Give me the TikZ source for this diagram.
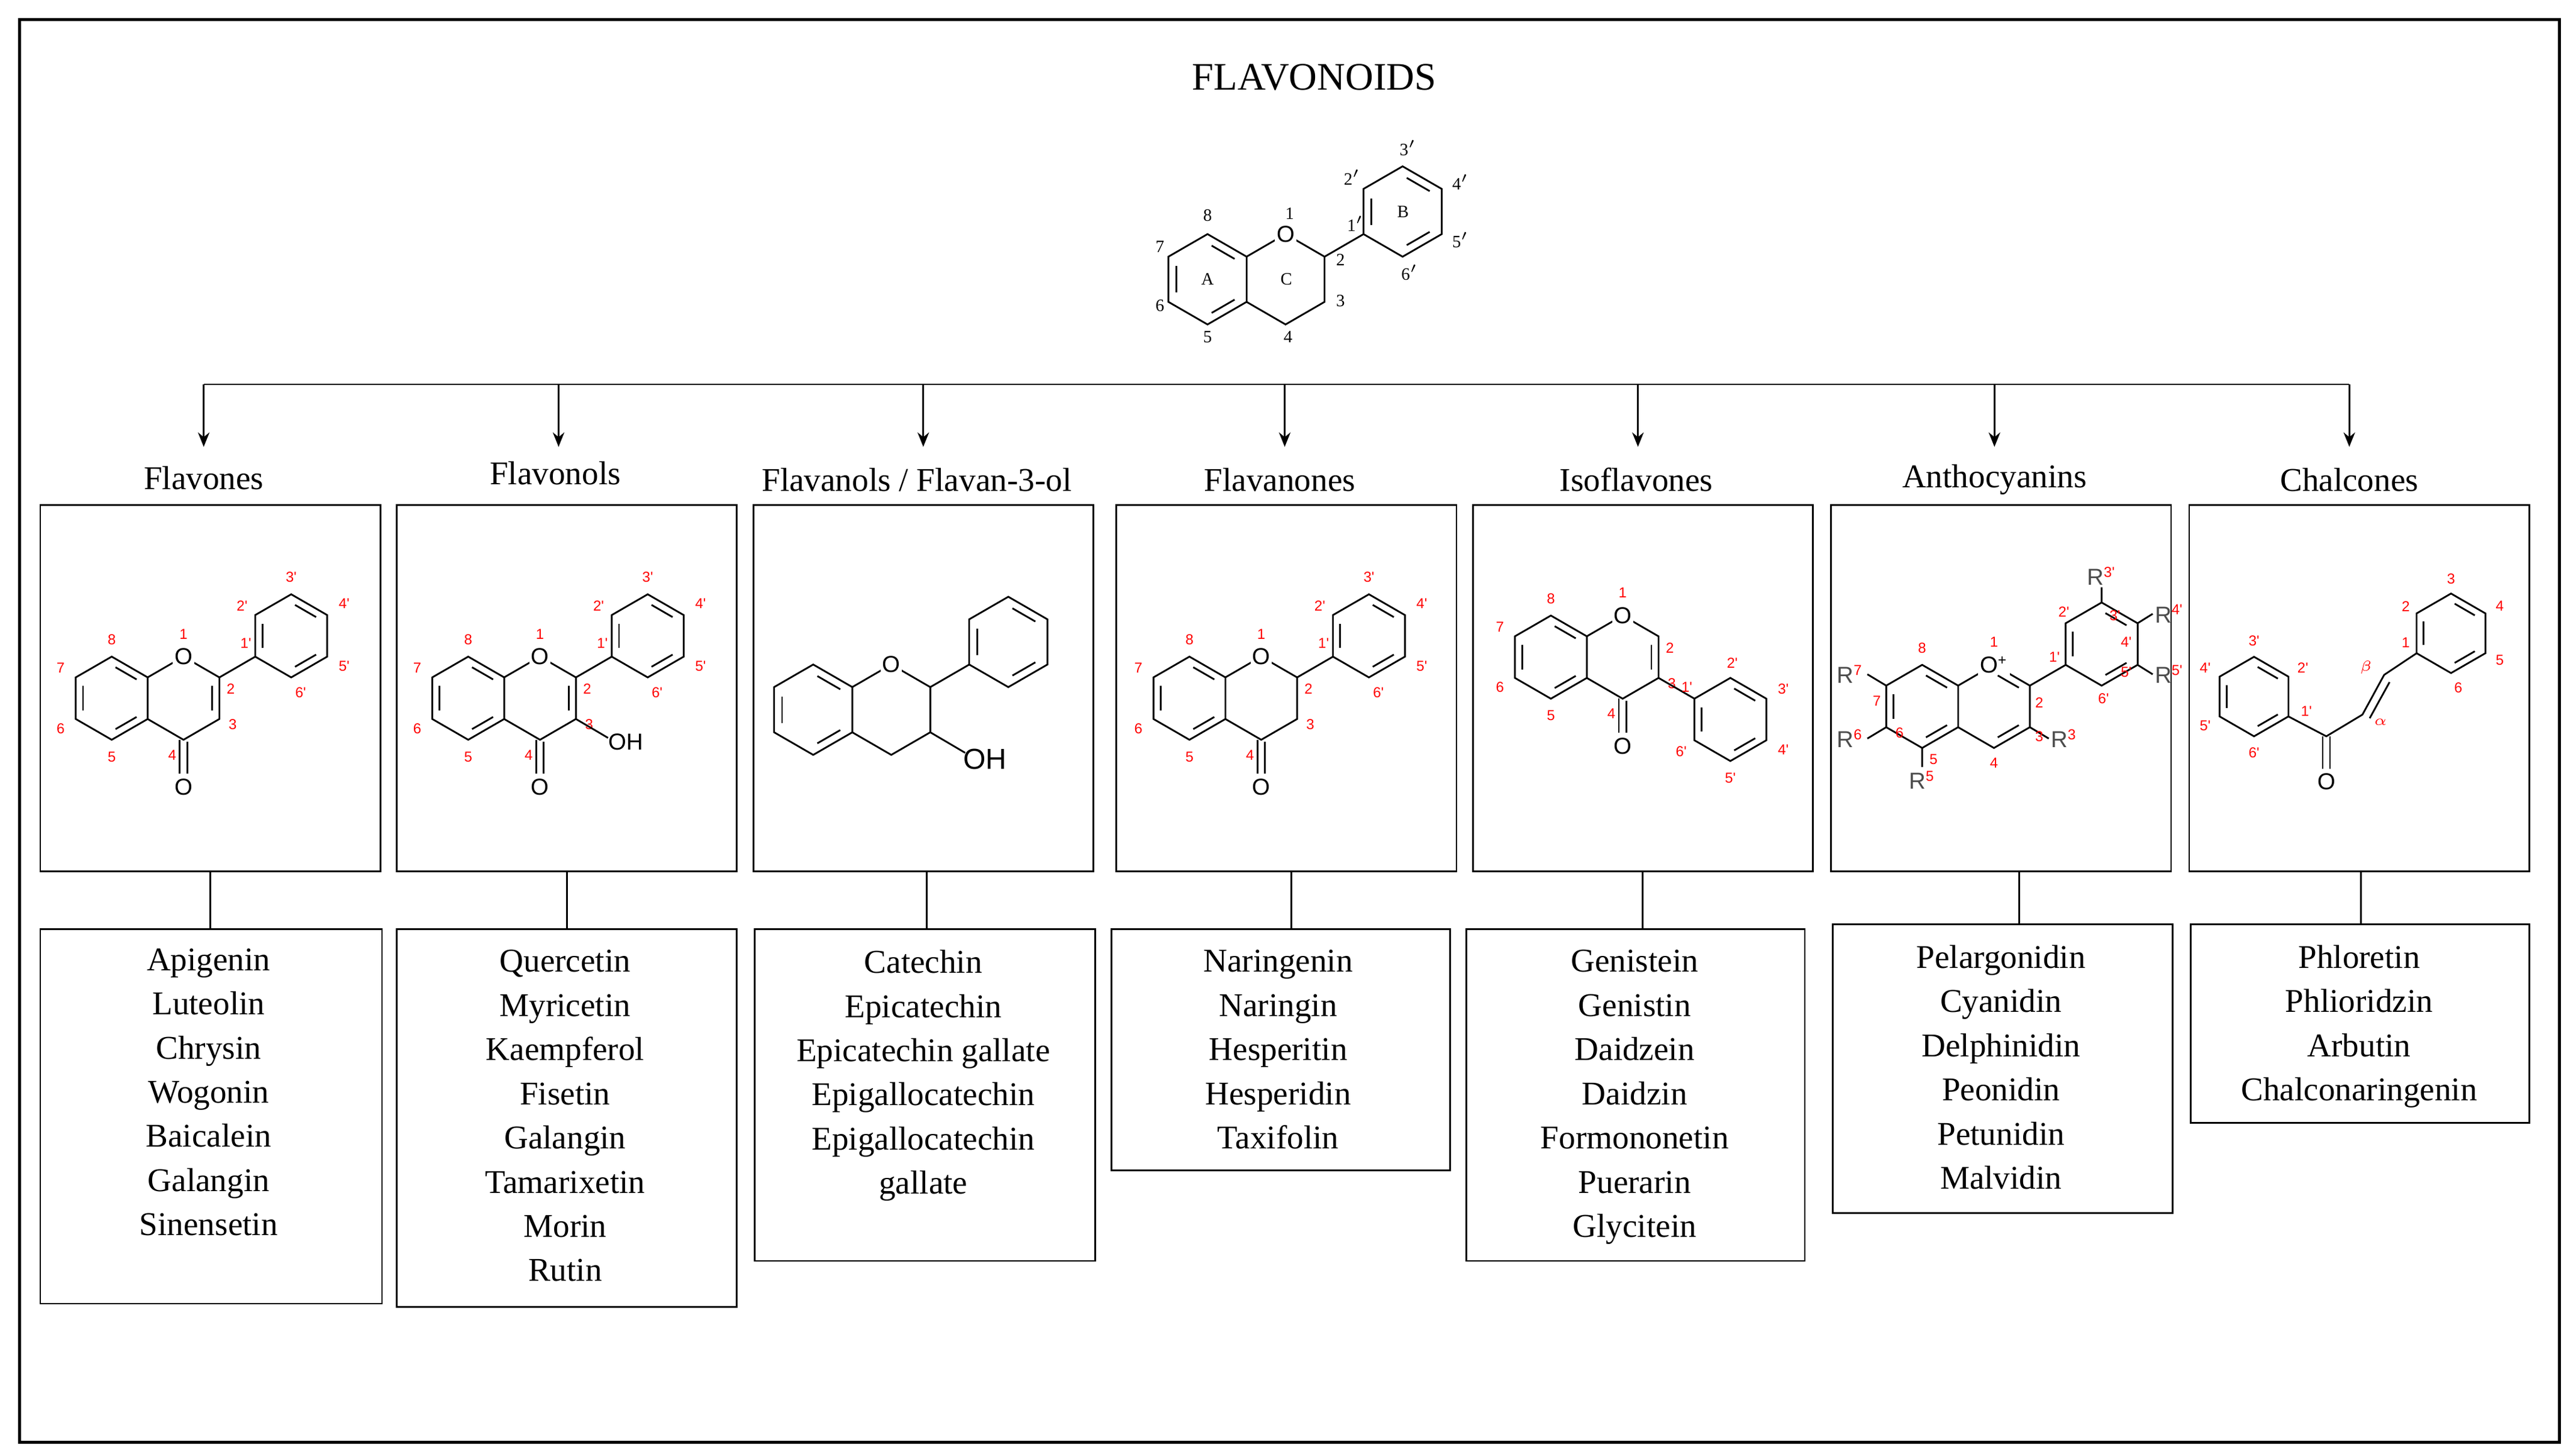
\documentclass[tikz,border=0pt]{standalone}
\usepackage{fontspec}
\setmainfont{Liberation Serif}
\newfontfamily\chemf{Liberation Sans}
\usetikzlibrary{arrows.meta}
\tikzset{
 chem/.style={font=\chemf\fontsize{8}{9}\selectfont,inner sep=0.6pt},
 rn/.style={font=\chemf\fontsize{5}{6}\selectfont,text=red,inner sep=0pt},
 bn/.style={font=\fontsize{6}{7}\selectfont,inner sep=0pt},
 box/.style={draw,line width=0.6pt},
 cat/.style={font=\fontsize{11.5}{13}\selectfont},
 lst/.style={font=\fontsize{11.5}{15.3}\selectfont,align=center,anchor=north,inner sep=0pt},
 arr/.style={-{Stealth[length=5pt,width=4pt]},line width=0.6pt},
 bond/.style={line width=0.6pt}
}
\newcommand\hexa[3]{\begin{scope}[shift={(#1,#2)}]
\draw[bond] (-90:22)--(-30:22)--(30:22)--(90:22)--(150:22)--(210:22)--cycle;
\ifnum#3=1 \foreach \a in {-90,30,150}{\draw[bond] (\a+7:16.5)--(\a+53:16.5);}\fi
\end{scope}}
\newcommand\ringC{\draw[bond] (19,-11)--(38,-22)--(57,-11)--(57,11)--(38,22)--(19,11);}
\newcommand\phenB{\draw[bond] (57,-11)--(76,-22);\hexa{95}{-33}{1}}
\newcommand\oxy{\node[chem,fill=white] (ox) at (38,-22) {O};}
\newcommand\carbonyl{\draw[bond] (36,22)--(36,40) (40,23)--(40,40);\node[chem] (co) at (38,47){O};}
\newcommand\dblCC{\begin{scope}[shift={(38,0)}]\draw[bond] (-23:16.5)--(23:16.5);\end{scope}}
\newcommand\coreNums{\node[rn] at (0,-31){8};\node[rn] at (-27,-16){7};\node[rn] at (-27,16){6};\node[rn] at (0,31){5};\node[rn] at (38,-34){1};\node[rn] at (63,-5){2};\node[rn] at (64,14){3};\node[rn] at (32,30){4};}
\newcommand\phenNums{\node[rn] at (71,-29){1'};\node[rn] at (69,-49){2'};\node[rn] at (95,-64){3'};\node[rn] at (123,-50){4'};\node[rn] at (123,-17){5'};\node[rn] at (100,-3){6'};}
\newcommand\RR[1]{R\textsuperscript{\color{red}\fontsize{5}{6}\selectfont #1}}
\begin{document}
\begin{tikzpicture}[x=0.02cm,y=-0.02cm]
\useasboundingbox (0,0) rectangle (1568,885);
\draw[line width=1.1pt] (12,12) rectangle (1558,878);
\node[font=\fontsize{13.5}{15}\selectfont] (title) at (800,47) {FLAVONOIDS};
% top structure
\begin{scope}[shift={(735,170)},scale=1.25]
\hexa{0}{0}{1}\ringC\phenB\oxy
\end{scope}
\foreach \p/\t in {{735,131}/8,{706,150}/7,{706,186}/6,{735,205}/5,{785,130}/1,{816,158}/2,{816,183}/3,{784,205}/4,{825,136}/1$'$,{823,108}/2$'$,{857,90}/3$'$,{889,111}/4$'$,{889,146}/5$'$,{858,166}/6$'$}
 {\node[bn] at (\p) {\t};}
\node[bn] at (735,170){A};\node[bn] at (783,170){C};\node[bn] at (854,129){B};
% distribution line
\coordinate (hl) at (124,234);\coordinate (hr) at (1430,234);
\draw[line width=0.6pt] (hl)--(hr);
\foreach \x/\n in {124/a,340/b,562/c,782/d,997/e,1214/f,1430/g}{
 \coordinate (t\n) at (\x,234);\coordinate (e\n) at (\x,272);
 \draw[arr] (t\n)--(e\n);}
% category labels
\node[cat] at (124,291){Flavones};
\node[cat] at (338,288){Flavonols};
\node[cat] at (558,292){Flavanols / Flavan-3-ol};
\node[cat] at (779,292){Flavanones};
\node[cat] at (996,292){Isoflavones};
\node[cat] at (1214,292){Anthocyanins};
\node[cat] at (1430,292){Chalcones};
% structure boxes
\foreach \x/\n in {24/a,241/b,458/c,679/d,896/e,1114/f,1332/g}{
 \node[box,minimum width=207*0.02cm,minimum height=223*0.02cm,anchor=north west,inner sep=0] (s\n) at (\x,307) {};}
% list boxes
\node[box,anchor=north west,minimum width=208*0.02cm,minimum height=228*0.02cm,inner sep=0] (la) at (24,565){};
\node[box,anchor=north west,minimum width=207*0.02cm,minimum height=230*0.02cm,inner sep=0] (lb) at (241,565){};
\node[box,anchor=north west,minimum width=207*0.02cm,minimum height=202*0.02cm,inner sep=0] (lc) at (459,565){};
\node[box,anchor=north west,minimum width=206*0.02cm,minimum height=147*0.02cm,inner sep=0] (ld) at (676,565){};
\node[box,anchor=north west,minimum width=206*0.02cm,minimum height=202*0.02cm,inner sep=0] (le) at (892,565){};
\node[box,anchor=north west,minimum width=207*0.02cm,minimum height=176*0.02cm,inner sep=0] (lf) at (1115,562){};
\node[box,anchor=north west,minimum width=206*0.02cm,minimum height=121*0.02cm,inner sep=0] (lg) at (1333,562){};
\foreach \n/\x in {a/128,b/345,c/564,d/786,e/1000,f/1229,g/1437}{
 \draw[line width=0.6pt] (s\n.south -| \x,0) -- (l\n.north -| \x,0);}
% list texts
\node[lst] at (127,577){Apigenin\\Luteolin\\Chrysin\\Wogonin\\Baicalein\\Galangin\\Sinensetin};
\node[lst] at (344,578){Quercetin\\Myricetin\\Kaempferol\\Fisetin\\Galangin\\Tamarixetin\\Morin\\Rutin};
\node[lst] at (562,578){Catechin\\Epicatechin\\Epicatechin gallate\\Epigallocatechin\\Epigallocatechin\\gallate};
\node[lst] at (778,578){Naringenin\\Naringin\\Hesperitin\\Hesperidin\\Taxifolin};
\node[lst] at (995,578){Genistein\\Genistin\\Daidzein\\Daidzin\\Formononetin\\Puerarin\\Glycitein};
\node[lst] at (1218,575){Pelargonidin\\Cyanidin\\Delphinidin\\Peonidin\\Petunidin\\Malvidin};
\node[lst] at (1436,575){Phloretin\\Phlioridzin\\Arbutin\\Chalconaringenin};
% Flavones
\begin{scope}[shift={(68,425)},scale=1.15]
\hexa{0}{0}{1}\ringC\phenB\dblCC\carbonyl\oxy\coreNums\phenNums
\end{scope}
% Flavonols
\begin{scope}[shift={(285,425)},scale=1.15]
\hexa{0}{0}{1}\ringC\phenB\dblCC\carbonyl\oxy\coreNums\phenNums
\draw[bond] (57,11)--(74,21);\node[chem,anchor=west] at (73,23){OH};
\end{scope}
% Flavanols
\begin{scope}[shift={(495,432)},scale=1.25]
\hexa{0}{0}{1}\ringC\phenB\oxy
\draw[bond] (57,11)--(74,21);\node[chem,anchor=west,font=\chemf\fontsize{10}{11}\selectfont] at (72,24){OH};
\end{scope}
% Flavanones
\begin{scope}[shift={(724,425)},scale=1.15]
\hexa{0}{0}{1}\ringC\phenB\carbonyl\oxy\coreNums\phenNums
\end{scope}
% Isoflavones
\begin{scope}[shift={(944,400)},scale=1.15]
\hexa{0}{0}{1}\ringC\dblCC\carbonyl\oxy\coreNums
\draw[bond] (57,11)--(76,22);\hexa{95}{33}{1}
\node[rn] at (72,16){1'};\node[rn] at (96,3){2'};\node[rn] at (123,17){3'};\node[rn] at (123,49){4'};\node[rn] at (95,64){5'};\node[rn] at (69,50){6'};
\end{scope}
% Anthocyanins
\begin{scope}[shift={(1170,430)},scale=1.15]
\hexa{0}{0}{1}\ringC\phenB
\begin{scope}[shift={(38,0)}]\draw[bond] (-83:16.5)--(-37:16.5) (37:16.5)--(83:16.5);\end{scope}
\node[chem,fill=white] at (38,-22){O\textsuperscript{\fontsize{5}{6}\selectfont +}};
\draw[bond] (-19,-11)--(-29,-17) (-19,11)--(-29,17) (0,22)--(0,32) (57,11)--(67,17) (95,-55)--(95,-63) (114,-44)--(122,-49) (114,-22)--(122,-17);
\foreach \p/\s/\an in {{-30,-17}/7/east,{-30,17}/6/east,{0,33}/5/north,{67,17}/3/west,{95,-63}/3'/south,{122,-49}/4'/west,{122,-17}/5'/west}
 {\node[chem,text=black!70,anchor=\an] at (\p){\RR{\s}};}
\node[rn] at (0,-31){8};\node[rn] at (-24,-3){7};\node[rn] at (-12,14){6};\node[rn] at (6,28){5};\node[rn] at (38,-34){1};\node[rn] at (62,-2){2};\node[rn] at (62,16){3};\node[rn] at (38,30){4};
\node[rn] at (70,-26){1'};\node[rn] at (75,-50){2'};\node[rn] at (102,-48){3'};\node[rn] at (108,-34){4'};\node[rn] at (108,-18){5'};\node[rn] at (96,-4){6'};
\end{scope}
% Chalcones
\begin{scope}[shift={(1372,424)},scale=1.1]
\hexa{0}{0}{1}
\draw[bond] (19,11)--(40,22)--(60,10)--(72,-12)--(90,-24);
\draw[bond] (64,12)--(75,-8);
\draw[bond] (38,22)--(38,40) (42,22)--(42,40);\node[chem] at (40,47){O};
\hexa{109}{-35}{1}
\node[rn] at (29,8){1'};\node[rn] at (27,-16){2'};\node[rn] at (0,-31){3'};\node[rn] at (-27,-16){4'};\node[rn] at (-27,16){5'};\node[rn] at (0,31){6'};
\node[rn] at (70,14){$\alpha$};\node[rn] at (62,-16){$\beta$};
\node[rn] at (84,-30){1};\node[rn] at (84,-50){2};\node[rn] at (109,-65){3};\node[rn] at (136,-50){4};\node[rn] at (136,-20){5};\node[rn] at (113,-5){6};
\end{scope}
\end{tikzpicture}
\end{document}
